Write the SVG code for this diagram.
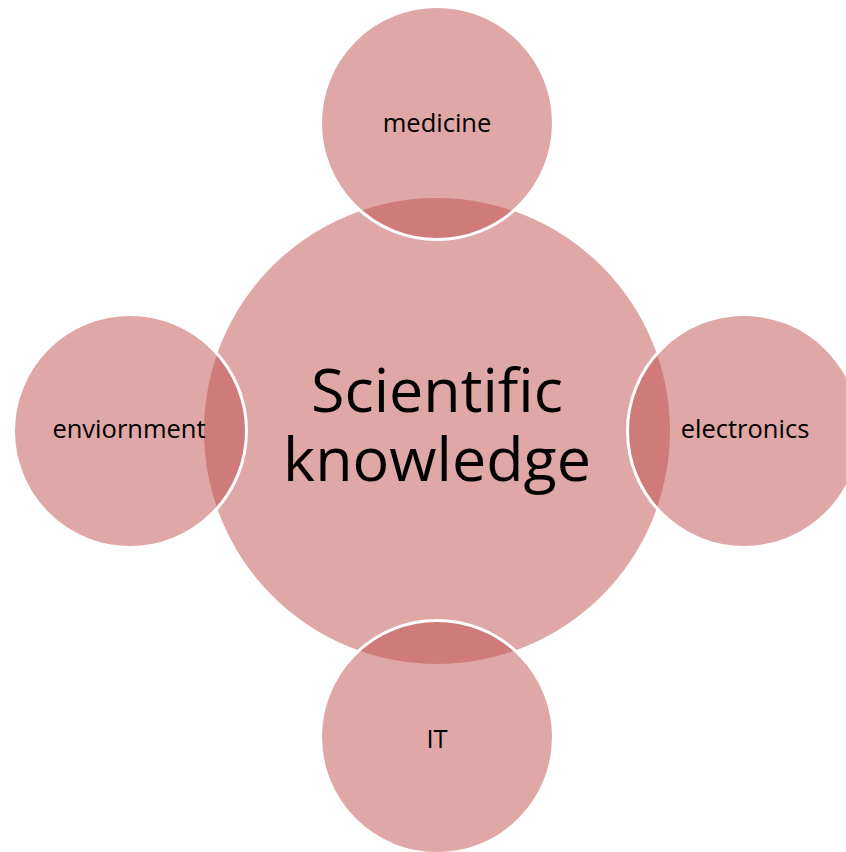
<svg xmlns="http://www.w3.org/2000/svg" width="846" height="852" viewBox="0 0 846 852">
<style>
.c{fill:#C0504D;fill-opacity:0.5}
.s{fill:#C0504D;fill-opacity:0.5;stroke:#ffffff;stroke-width:3}
.t{font-family:"Open Sans","DejaVu Sans",sans-serif;fill:#000;text-anchor:middle}
.sm{font-size:25.5px}
.lg{font-size:61px}
</style>
<rect width="846" height="852" fill="#ffffff"/>
<g id="connectors"></g>
<g id="center">
<circle class="c" cx="437" cy="431" r="233"/>
<text class="t lg" x="437" y="412"><tspan x="437" y="412">Scientific</tspan><tspan x="437" y="481">knowledge</tspan></text>
</g>
<g id="medicine">
<circle class="s" cx="437" cy="123" r="116.5"/>
<text class="t sm" x="437" y="132">medicine</text>
</g>
<g id="enviornment">
<circle class="s" cx="130" cy="431" r="116.5"/>
<text class="t sm" x="129" y="438">enviornment</text>
</g>
<g id="electronics">
<circle class="s" cx="744" cy="431" r="116.5"/>
<text class="t sm" x="745" y="438">electronics</text>
</g>
<g id="IT">
<circle class="s" cx="437" cy="737" r="116.5"/>
<text class="t sm" x="437" y="748">IT</text>
</g>
</svg>
